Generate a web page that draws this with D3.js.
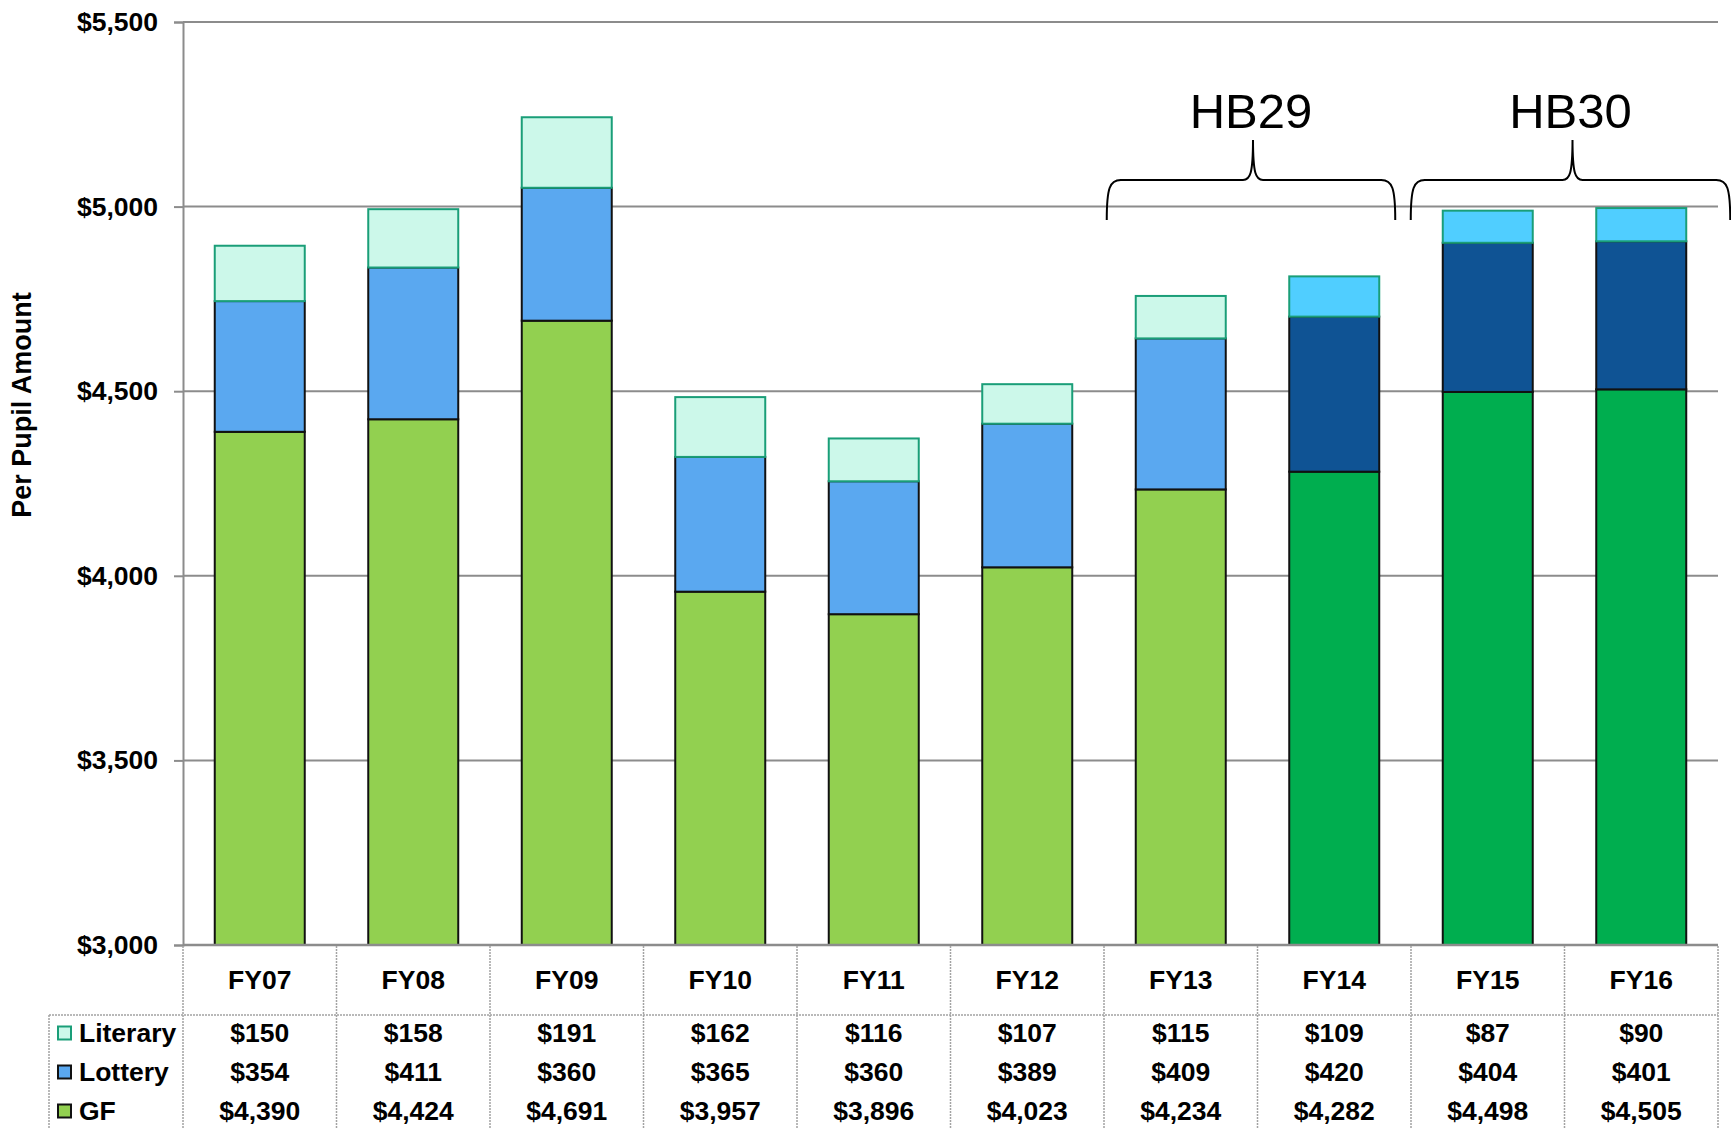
<!DOCTYPE html>
<html>
<head>
<meta charset="utf-8">
<script src="https://cdn.jsdelivr.net/npm/d3@7"></script>
<style>
  html, body { margin: 0; padding: 0; background: #ffffff; }
  svg { display: block; font-family: "Liberation Sans", Arial, sans-serif; }
</style>
</head>
<body>
<svg id="chart" width="1731" height="1128"></svg>
<script>
// Per-pupil funding by fiscal year, stacked by source
const years    = ["FY07", "FY08", "FY09", "FY10", "FY11", "FY12", "FY13", "FY14", "FY15", "FY16"];
const literary = [150, 158, 191, 162, 116, 107, 115, 109, 87, 90];
const lottery  = [354, 411, 360, 365, 360, 389, 409, 420, 404, 401];
const gf       = [4390, 4424, 4691, 3957, 3896, 4023, 4234, 4282, 4498, 4505];
const yTicks   = [3000, 3500, 4000, 4500, 5000, 5500];
const seriesNames = ["Literary", "Lottery", "GF"];
// Years funded under the newer formula are drawn in the darker palette
const newFormulaYears = ["FY14", "FY15", "FY16"];
const bills = [
  { label: "HB29", from: "FY13", to: "FY14" },
  { label: "HB30", from: "FY15", to: "FY16" }
];

const palette = {
  old: { GF: "#92D050", Lottery: "#5AA8F0", Literary: "#CCF8EA" },
  new: { GF: "#00AE4F", Lottery: "#0F5394", Literary: "#50CEFF" }
};
const strokeOf = { GF: "#111", Lottery: "#111", Literary: "#1A9E78" };
const labelSize = 26.5;

const svg = d3.select("#chart");
const plot = { left: 183, right: 1718, top: 22, bottom: 945 };

const x = d3.scaleBand()
  .domain(years)
  .range([plot.left, plot.right])
  .paddingInner(0.4137)
  .paddingOuter(0.4137 / 2);
const y = d3.scaleLinear().domain([3000, 5500]).range([plot.bottom, plot.top]);
const step = x.step();
const bw = x.bandwidth();

// Gridlines
svg.append("g")
  .selectAll("line")
  .data(yTicks)
  .join("line")
  .attr("x1", plot.left).attr("x2", plot.right)
  .attr("y1", d => y(d)).attr("y2", d => y(d))
  .attr("stroke", "#8c8c8c").attr("stroke-width", 2);

// Y axis
const yAxis = d3.axisLeft(y)
  .tickValues(yTicks)
  .tickSize(9)
  .tickPadding(16)
  .tickFormat(d3.format("$,"));
const gy = svg.append("g").attr("transform", `translate(${plot.left},0)`).call(yAxis);
gy.select(".domain").attr("stroke", "#8c8c8c").attr("stroke-width", 2);
gy.selectAll(".tick line").attr("stroke", "#8c8c8c").attr("stroke-width", 2);
gy.selectAll(".tick text")
  .attr("fill", "#000")
  .attr("font-size", labelSize)
  .attr("font-weight", "bold")
  .attr("font-family", "Liberation Sans, Arial, sans-serif");

// Y axis title
svg.append("text")
  .attr("transform", "translate(22,405) rotate(-90)")
  .attr("text-anchor", "middle")
  .attr("dominant-baseline", "central")
  .attr("font-size", 27)
  .attr("font-weight", "bold")
  .text("Per Pupil Amount");

// Stacked bars
const rows = years.map((yr, i) => ({ year: yr, GF: gf[i], Lottery: lottery[i], Literary: literary[i] }));
const stack = d3.stack().keys(["GF", "Lottery", "Literary"]);
const layers = stack(rows);

const barG = svg.append("g");
layers.forEach(layer => {
  const key = layer.key;
  barG.append("g")
    .selectAll("rect")
    .data(layer)
    .join("rect")
    .attr("x", d => x(d.data.year))
    .attr("width", bw)
    .attr("y", d => y(d[1]))
    .attr("height", d => y(Math.max(d[0], 3000)) - y(d[1]))
    .attr("fill", d => (newFormulaYears.includes(d.data.year) ? palette.new : palette.old)[key])
    .attr("stroke", strokeOf[key])
    .attr("stroke-width", 2);
});

// X axis baseline
svg.append("line")
  .attr("x1", plot.left).attr("x2", plot.right)
  .attr("y1", plot.bottom).attr("y2", plot.bottom)
  .attr("stroke", "#8c8c8c").attr("stroke-width", 2.5);

// Data table under the chart
const table = { headerBottom: 1015, legendLeft: 49, bottom: 1128, rowY: [1033, 1072, 1111] };
const dotted = { stroke: "#a3a3a3", width: 1.5, dash: "2,1" };
const tg = svg.append("g");

tg.selectAll("line.col")
  .data(d3.range(years.length + 1))
  .join("line")
  .attr("class", "col")
  .attr("x1", i => plot.left + i * step).attr("x2", i => plot.left + i * step)
  .attr("y1", plot.bottom + 1).attr("y2", table.bottom)
  .attr("stroke", dotted.stroke).attr("stroke-width", dotted.width)
  .attr("stroke-dasharray", dotted.dash);

tg.append("line")
  .attr("x1", table.legendLeft).attr("x2", plot.right)
  .attr("y1", table.headerBottom).attr("y2", table.headerBottom)
  .attr("stroke", dotted.stroke).attr("stroke-width", dotted.width)
  .attr("stroke-dasharray", dotted.dash);

tg.append("line")
  .attr("x1", table.legendLeft).attr("x2", table.legendLeft)
  .attr("y1", table.headerBottom).attr("y2", table.bottom)
  .attr("stroke", dotted.stroke).attr("stroke-width", dotted.width)
  .attr("stroke-dasharray", dotted.dash);

// Category header row
tg.selectAll("text.cat")
  .data(years)
  .join("text")
  .attr("class", "cat")
  .attr("x", d => x(d) + bw / 2)
  .attr("y", (plot.bottom + table.headerBottom) / 2)
  .attr("text-anchor", "middle")
  .attr("dominant-baseline", "central")
  .attr("font-size", labelSize)
  .attr("font-weight", "bold")
  .text(d => d);

// Value rows
const fmt = d3.format("$,");
const seriesValues = { Literary: literary, Lottery: lottery, GF: gf };
seriesNames.forEach((name, r) => {
  const ry = table.rowY[r];
  tg.selectAll(`text.v${r}`)
    .data(seriesValues[name])
    .join("text")
    .attr("class", `v${r}`)
    .attr("x", (d, i) => x(years[i]) + bw / 2)
    .attr("y", ry)
    .attr("text-anchor", "middle")
    .attr("dominant-baseline", "central")
    .attr("font-size", labelSize)
    .attr("font-weight", "bold")
    .text(d => fmt(d));

  // Legend key
  tg.append("rect")
    .attr("x", 58).attr("y", ry - 6.5)
    .attr("width", 13).attr("height", 13)
    .attr("fill", palette.old[name])
    .attr("stroke", name === "Literary" ? strokeOf.Literary : "#111")
    .attr("stroke-width", 2);
  tg.append("text")
    .attr("x", 79).attr("y", ry)
    .attr("dominant-baseline", "central")
    .attr("font-size", labelSize)
    .attr("font-weight", "bold")
    .text(name);
});

// Braces marking the bills
const braceLayout = {
  HB29: { padL: 29, padR: 16 },
  HB30: { padL: 32, padR: 44 }
};
const braceTop = 180, braceEnd = 220, braceTip = 140;
function bracePath(x0, x1) {
  const c = (x0 + x1) / 2 + 2;
  return `M${x0},${braceEnd}` +
    `C${x0},${braceTop + 8} ${x0 + 3},${braceTop} ${x0 + 14},${braceTop}` +
    `L${c - 10},${braceTop}` +
    `C${c - 3},${braceTop} ${c},${braceTop - 6} ${c},${braceTip}` +
    `C${c},${braceTop - 6} ${c + 3},${braceTop} ${c + 10},${braceTop}` +
    `L${x1 - 14},${braceTop}` +
    `C${x1 - 3},${braceTop} ${x1},${braceTop + 8} ${x1},${braceEnd}`;
}
const bg = svg.append("g");
bills.forEach(b => {
  const lay = braceLayout[b.label];
  const x0 = x(b.from) - lay.padL;
  const x1 = x(b.to) + bw + lay.padR;
  bg.append("path")
    .attr("d", bracePath(x0, x1))
    .attr("fill", "none")
    .attr("stroke", "#000")
    .attr("stroke-width", 2);
  bg.append("text")
    .attr("x", (x0 + x1) / 2)
    .attr("y", 128)
    .attr("text-anchor", "middle")
    .attr("font-size", 49)
    .text(b.label);
});
</script>
</body>
</html>
